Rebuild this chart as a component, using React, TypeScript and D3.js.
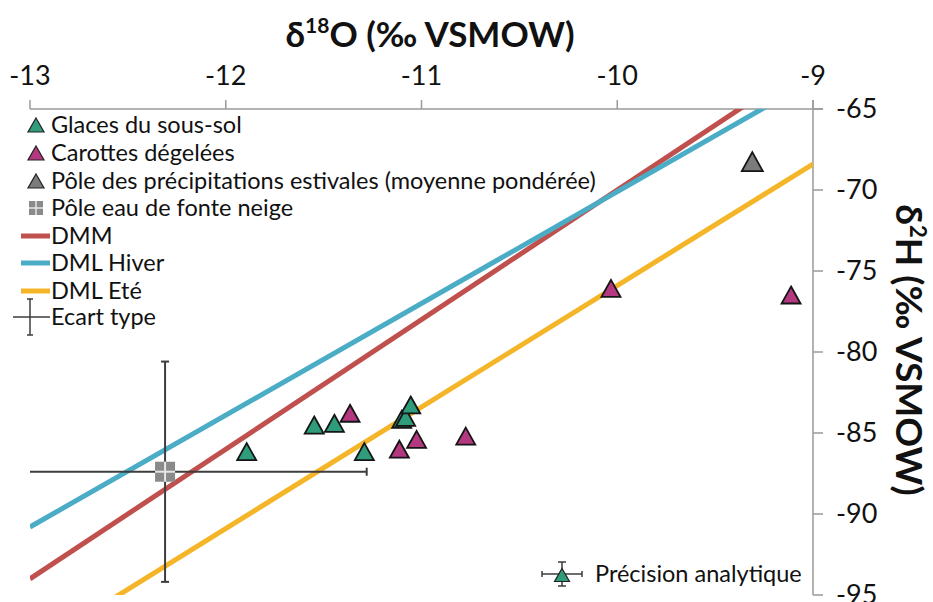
import React from "react";
import * as d3 from "d3";

// ---- data ----
const xTicks = [-13, -12, -11, -10, -9];
const yTicks = [-65, -70, -75, -80, -85, -90, -95];

const groundIceO = [-11.893, -11.548, -11.445, -11.292, -11.101, -11.081, -11.055];
const groundIceH = [-86.15, -84.51, -84.4, -86.15, -84.15, -84.03, -83.27];

const coresO = [-11.365, -11.113, -11.025, -10.774, -10.032, -9.112];
const coresH = [-83.78, -86.0, -85.39, -85.19, -76.07, -76.48];

const summerPoleO = [-9.31];
const summerPoleH = [-68.25];

const snowPoleO = [-12.31];
const snowPoleH = [-87.39];
const snowPoleSdO = [1.03];
const snowPoleSdH = [6.8];

const lineNames = ["DMM", "DML Hiver", "DML Eté"];
const lineSlopes = [8, 6.9, 7.5];
const lineIntercepts = [10, -1.1, -0.9];
const lineColors = ["#c0504d", "#4bacc6", "#f5b528"];

const pointLegend = [
  "Glaces du sous-sol",
  "Carottes dégelées",
  "Pôle des précipitations estivales (moyenne pondérée)",
  "Pôle eau de fonte neige",
];

const GREEN = "#2f9d7c";
const MAGENTA = "#b3387f";
const GRAY = "#7b7b7b";
const FONT = "Lato, 'Open Sans', sans-serif";

const W = 933;
const H = 602;

const x = d3.scaleLinear().domain([-13, -9]).range([30, 813]);
const y = d3.scaleLinear().domain([-95, -65]).range([595, 109]);

function tri(cx: number, cy: number, w: number, h: number) {
  return `M${cx},${cy - h / 2}L${cx + w / 2},${cy + h / 2}L${cx - w / 2},${cy + h / 2}Z`;
}

export default function App() {
  const lineGen = d3
    .line<number>()
    .x((d) => x(d[0]))
    .y((d) => y(d[1]));

  const legendYs = [125, 153, 181, 208, 236, 263, 291, 317];

  const sx = x(snowPoleO[0]);
  const sy = y(snowPoleH[0]);
  const exL = x(Math.max(-13, snowPoleO[0] - snowPoleSdO[0]));
  const exR = x(snowPoleO[0] + snowPoleSdO[0]);
  const eyT = y(snowPoleH[0] + snowPoleSdH[0]);
  const eyB = y(snowPoleH[0] - snowPoleSdH[0]);

  return (
    <svg
      width={W}
      height={H}
      style={{ position: "absolute", left: 0, top: 0, background: "#fff" }}
      fontFamily={FONT}
    >
      <defs>
        <clipPath id="plot">
          <rect x={30} y={109} width={783} height={486} />
        </clipPath>
      </defs>
      <rect x={0} y={0} width={W} height={H} fill="#fff" />

      {/* top title */}
      <text x={430} y={47} textAnchor="middle" fontSize={35} fontWeight={700} fill="#111">
        δ<tspan fontSize={21} dy={-14}>18</tspan>
        <tspan dy={14}>O (‰ VSMOW)</tspan>
      </text>

      {/* top axis */}
      <line x1={x(-13)} x2={823} y1={109} y2={109} stroke="#9a9a9a" strokeWidth={1.5} />
      {xTicks.map((t) => (
        <g key={t}>
          <line x1={x(t)} x2={x(t)} y1={100} y2={109} stroke="#9a9a9a" strokeWidth={1.5} />
          <text x={x(t)} y={85} textAnchor="middle" fontSize={27} fill="#111">
            {t}
          </text>
        </g>
      ))}

      {/* right axis */}
      <line x1={813} x2={813} y1={100} y2={595} stroke="#9a9a9a" strokeWidth={1.5} />
      {yTicks.map((t) => (
        <g key={t}>
          <line x1={813} x2={823} y1={y(t)} y2={y(t)} stroke="#9a9a9a" strokeWidth={1.5} />
          <text x={836} y={y(t) + 9} textAnchor="start" fontSize={27} fill="#111">
            {t}
          </text>
        </g>
      ))}
      <text
        transform={`translate(896,350) rotate(90)`}
        textAnchor="middle"
        fontSize={37}
        fontWeight={700}
        fill="#111"
      >
        δ<tspan fontSize={22} dy={-14}>2</tspan>
        <tspan dy={14}>H (‰ VSMOW)</tspan>
      </text>

      {/* lines */}
      <g clipPath="url(#plot)">
        {lineSlopes.map((s, i) => (
          <path
            key={lineNames[i]}
            d={lineGen([
              [-13, s * -13 + lineIntercepts[i]],
              [-9, s * -9 + lineIntercepts[i]],
            ] as any) || ""}
            stroke={lineColors[i]}
            strokeWidth={5}
            fill="none"
          />
        ))}
      </g>

      {/* snowmelt pole with std dev */}
      <g stroke="#3d3d3d" strokeWidth={2}>
        <line x1={exL} x2={exR} y1={sy} y2={sy} />
        <line x1={exR} x2={exR} y1={sy - 4} y2={sy + 4} />
        <line x1={sx} x2={sx} y1={eyT} y2={eyB} />
        <line x1={sx - 4} x2={sx + 4} y1={eyT} y2={eyT} />
        <line x1={sx - 4} x2={sx + 4} y1={eyB} y2={eyB} />
      </g>
      <rect x={sx - 10} y={sy - 10} width={20} height={20} fill="#8a8a8a" />
      <line x1={sx - 10} x2={sx + 10} y1={sy} y2={sy} stroke="#e6e6e6" strokeWidth={2} />
      <line x1={sx} x2={sx} y1={sy - 10} y2={sy + 10} stroke="#e6e6e6" strokeWidth={2} />

      {/* points */}
      {groundIceO.map((o, i) => (
        <path key={"g" + i} d={tri(x(o), y(groundIceH[i]), 19, 17)} fill={GREEN} stroke="#151515" strokeWidth={1.8} />
      ))}
      {coresO.map((o, i) => (
        <path key={"c" + i} d={tri(x(o), y(coresH[i]), 19, 17)} fill={MAGENTA} stroke="#151515" strokeWidth={1.8} />
      ))}
      {summerPoleO.map((o, i) => (
        <path key={"s" + i} d={tri(x(o), y(summerPoleH[i]), 21, 19)} fill={GRAY} stroke="#151515" strokeWidth={1.8} />
      ))}

      {/* legend */}
      <g fontSize={23.5} fill="#111">
        <path d={tri(36, legendYs[0], 16, 14)} fill={GREEN} stroke="#222" strokeWidth={1.2} />
        <path d={tri(36, legendYs[1], 16, 14)} fill={MAGENTA} stroke="#222" strokeWidth={1.2} />
        <path d={tri(36, legendYs[2], 16, 14)} fill={GRAY} stroke="#222" strokeWidth={1.2} />
        <rect x={29} y={legendYs[3] - 7} width={14} height={14} fill="#8a8a8a" />
        <line x1={29} x2={43} y1={legendYs[3]} y2={legendYs[3]} stroke="#e6e6e6" strokeWidth={1.5} />
        <line x1={36} x2={36} y1={legendYs[3] - 7} y2={legendYs[3] + 7} stroke="#e6e6e6" strokeWidth={1.5} />
        {pointLegend.map((t, i) => (
          <text key={t} x={51} y={legendYs[i] + 8}>
            {t}
          </text>
        ))}
        {lineNames.map((t, i) => (
          <g key={t}>
            <line x1={21} x2={50} y1={legendYs[4 + i]} y2={legendYs[4 + i]} stroke={lineColors[i]} strokeWidth={5} />
            <text x={51} y={legendYs[4 + i] + 8}>
              {t}
            </text>
          </g>
        ))}
        <g stroke="#3d3d3d" strokeWidth={1.5}>
          <line x1={13} x2={50} y1={legendYs[7]} y2={legendYs[7]} />
          <line x1={30} x2={30} y1={legendYs[7] - 18} y2={legendYs[7] + 18} />
          <line x1={27} x2={33} y1={legendYs[7] - 18} y2={legendYs[7] - 18} />
          <line x1={27} x2={33} y1={legendYs[7] + 18} y2={legendYs[7] + 18} />
        </g>
        <text x={51} y={legendYs[7] + 8}>Ecart type</text>
      </g>

      {/* analytical precision */}
      <g stroke="#3d3d3d" strokeWidth={1.5}>
        <line x1={542} x2={582} y1={574} y2={574} />
        <line x1={542} x2={542} y1={571} y2={577} />
        <line x1={582} x2={582} y1={571} y2={577} />
        <line x1={562} x2={562} y1={562} y2={586} />
        <line x1={558} x2={566} y1={562} y2={562} />
        <line x1={558} x2={566} y1={586} y2={586} />
      </g>
      <path d={tri(562, 575, 15, 13)} fill={GREEN} stroke="#222" strokeWidth={1.2} />
      <text x={595} y={582} fontSize={23.5} fill="#111">
        Précision analytique
      </text>
    </svg>
  );
}
